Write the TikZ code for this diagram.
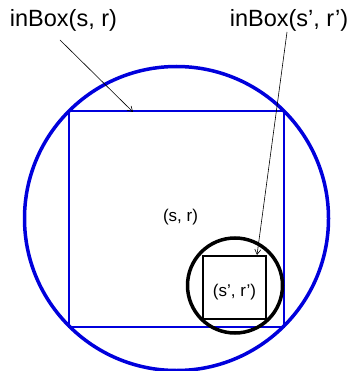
\documentclass[tikz,border=0pt]{standalone}
\usepackage{fontspec}
\setmainfont{Liberation Sans}
\usetikzlibrary{arrows.meta}
\definecolor{boxblue}{RGB}{0,0,220}
\tikzset{
  bigring/.style={circle, draw=boxblue, line width=3.5pt, inner sep=0pt},
  smallring/.style={circle, draw=black, line width=3.5pt, inner sep=0pt},
  bluebox/.style={rectangle, draw=boxblue, line width=2pt, inner sep=0pt},
  blackbox/.style={rectangle, draw=black, line width=2pt, inner sep=0pt},
  title/.style={anchor=base, font=\fontsize{23.5}{26}\selectfont},
  pair/.style={anchor=base, font=\fontsize{17}{19}\selectfont},
  arrow/.style={line width=0.6pt, -{Straight Barb[length=5pt, width=6pt]}},
}
\begin{document}
\begin{tikzpicture}[x=1pt, y=-1pt]
  \useasboundingbox (0,0) rectangle (351,371);

  \node[bigring, minimum size=304pt]  (outer)  at (176.5,218.5) {};
  \node[bluebox, minimum size=215pt]  (bigsq)  at (176.5,219) {};
  \node[smallring, minimum size=95pt] (inner)  at (235,285.5) {};
  \node[blackbox, minimum size=63pt]  (smallsq) at (234.5,287) {};

  \node[pair]  (sr)    at (180.5,221.5) {(s, r)};
  \node[pair]  (srp)   at (234.5,296)   {(s’, r’)};

  \node[title] (lblA)  at (63.5,27) {inBox(s, r)};
  \node[title] (lblB)  at (289,27)  {inBox(s’, r’)};

  \coordinate (tipA) at (133,112);
  \coordinate (tipB) at (257,255);

  \draw[arrow] ([xshift=-3.5pt, yshift=-13pt]lblA.base) -- (tipA);
  \draw[arrow] ([xshift=-2pt, yshift=-5pt]lblB.base) -- (tipB);
\end{tikzpicture}
\end{document}
